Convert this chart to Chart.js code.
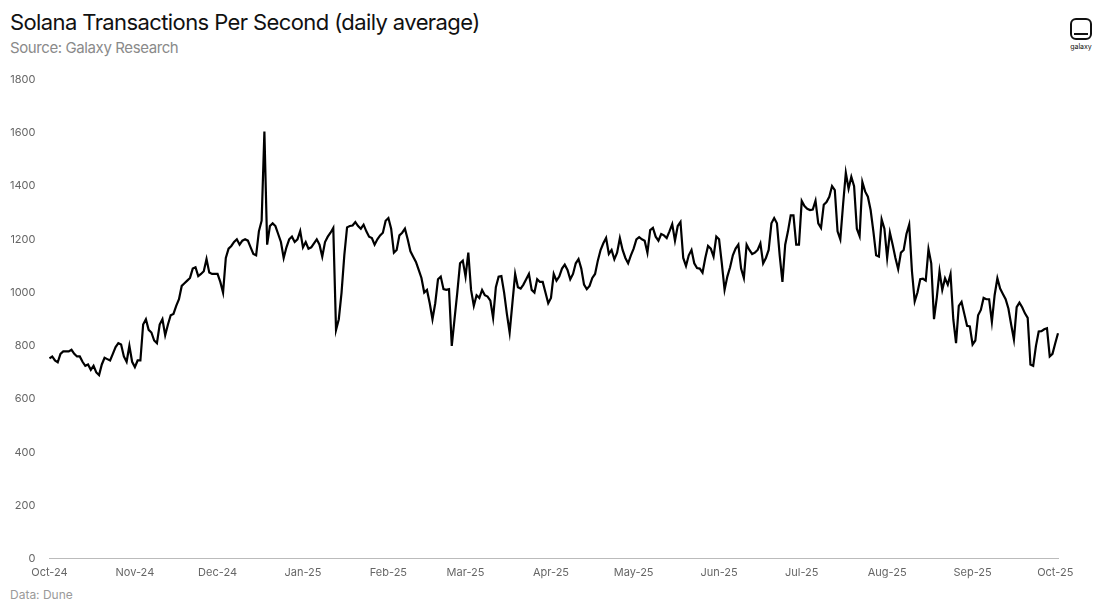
<!DOCTYPE html>
<html><head><meta charset="utf-8">
<script src="https://cdn.jsdelivr.net/npm/chart.js@4"></script>
<style>
body{margin:0;background:#fff;font-family:Inter,"Noto Sans",sans-serif;width:1100px;height:614px;overflow:hidden;position:relative}
#t{position:absolute;left:10px;top:9px;font-size:22px;color:#111;letter-spacing:-0.6px}
#s{position:absolute;left:10px;top:38px;font-size:15px;color:#8a8a8a;letter-spacing:-0.4px}
#d{position:absolute;left:10px;top:587px;font-size:12px;color:#9a9a9a}
#logo{position:absolute;left:1066px;top:18px;width:30px;text-align:center}
#logo .b{width:18px;height:18px;border:2.5px solid #111;border-radius:6px;margin:0 auto;position:relative}
#logo .b:after{content:"";position:absolute;left:2px;right:2px;bottom:3px;height:2px;background:#111}
#logo .l{font-size:7px;color:#111;margin-top:2px}
#c{position:absolute;left:0;top:67px;width:1100px;height:515px}
</style></head><body>
<div id="t">Solana Transactions Per Second (daily average)</div>
<div id="s">Source: Galaxy Research</div>
<div id="logo"><div class="b"></div><div class="l">galaxy</div></div>
<div id="c"><canvas id="cv"></canvas></div>
<div id="d">Data: Dune</div>
<script>
const monthLabels=["Oct-24","Nov-24","Dec-24","Jan-25","Feb-25","Mar-25","Apr-25","May-25","Jun-25","Jul-25","Aug-25","Sep-25","Oct-25"];
const oct24=[753,760,745,738,770,779,779,779,785,770,760,760,740,725,730,710,725,700,690,730,755,750,745,770,795,810,805,760,740,800,740];
const nov24=[720,745,745,880,900,860,850,820,810,880,900,840,880,915,920,950,975,1025,1035,1045,1055,1090,1095,1062,1070,1080,1126,1075,1070,1070];
const dec24=[1070,1040,1000,1130,1165,1175,1190,1200,1180,1195,1200,1195,1170,1145,1140,1230,1270,1605,1180,1250,1260,1250,1220,1190,1130,1170,1200,1210,1190,1200,1231];
const jan25=[1170,1190,1165,1170,1185,1200,1180,1135,1190,1210,1225,1243,860,900,1000,1140,1245,1250,1252,1265,1250,1240,1255,1230,1210,1205,1180,1200,1215,1225,1270];
const feb25=[1280,1240,1150,1160,1215,1225,1240,1200,1155,1135,1115,1085,1055,1000,1010,960,900,960,1050,1060,1013,1010,1013,800,900,1000,1110,1120];
const mar25=[1060,1150,1010,950,990,980,1010,990,985,970,905,1020,1060,1062,1000,920,850,960,1070,1020,1015,1030,1050,1070,1010,1000,1050,1040,1040,1000,960];
const apr25=[980,1070,1045,1060,1090,1105,1085,1050,1070,1110,1126,1090,1030,1013,1025,1055,1070,1120,1160,1185,1205,1145,1160,1125,1150,1205,1160,1130,1110,1140];
const may25=[1165,1200,1208,1200,1195,1150,1235,1243,1210,1195,1220,1215,1205,1230,1257,1195,1250,1265,1130,1100,1140,1160,1110,1092,1090,1075,1130,1175,1165,1135,1210];
const jun25=[1200,1110,1010,1060,1095,1140,1165,1180,1090,1055,1180,1160,1145,1150,1160,1185,1110,1130,1160,1260,1280,1260,1140,1040,1180,1230,1290,1290,1180,1180];
const jul25=[1344,1325,1315,1310,1312,1345,1260,1243,1330,1340,1360,1400,1385,1230,1200,1330,1450,1390,1435,1400,1240,1212,1415,1380,1360,1310,1230,1140,1135,1275,1240];
const aug25=[1130,1225,1180,1130,1088,1150,1160,1220,1255,1080,967,1000,1050,1052,1045,1163,1110,900,980,1080,1010,1054,1030,1069,900,810,950,965,920,875,873];
const sep25=[805,820,915,935,980,975,975,890,990,1054,1015,995,975,940,880,824,945,962,945,922,905,730,725,800,854,855,862,866,760,770];
const oct25=[810,847];
const months=[oct24,nov24,dec24,jan25,feb25,mar25,apr25,may25,jun25,jul25,aug25,sep25,oct25];
const labels=[],values=[];
months.forEach((m,i)=>m.forEach((v,j)=>{labels.push(j===0?monthLabels[i]:"");values.push(v);}));
new Chart(document.getElementById('cv'),{type:'line',
data:{labels,datasets:[{data:values,borderColor:'#000',borderWidth:2.2,pointRadius:0,tension:0,fill:false}]},
options:{responsive:true,maintainAspectRatio:false,animation:false,
layout:{padding:{left:4,right:42,top:0,bottom:0}},
plugins:{legend:{display:false},tooltip:{enabled:false}},
scales:{
x:{grid:{display:false,drawTicks:true,tickLength:4},border:{color:'#bbb'},
ticks:{autoSkip:false,maxRotation:0,color:'#666',font:{size:11,family:'Inter'},callback:(v,i)=>labels[i]}},
y:{min:0,max:1800,grid:{display:false},border:{display:false},
ticks:{stepSize:200,color:'#666',padding:6,font:{size:11,family:'Inter'},callback:v=>String(v)}}}}});
</script></body></html>
